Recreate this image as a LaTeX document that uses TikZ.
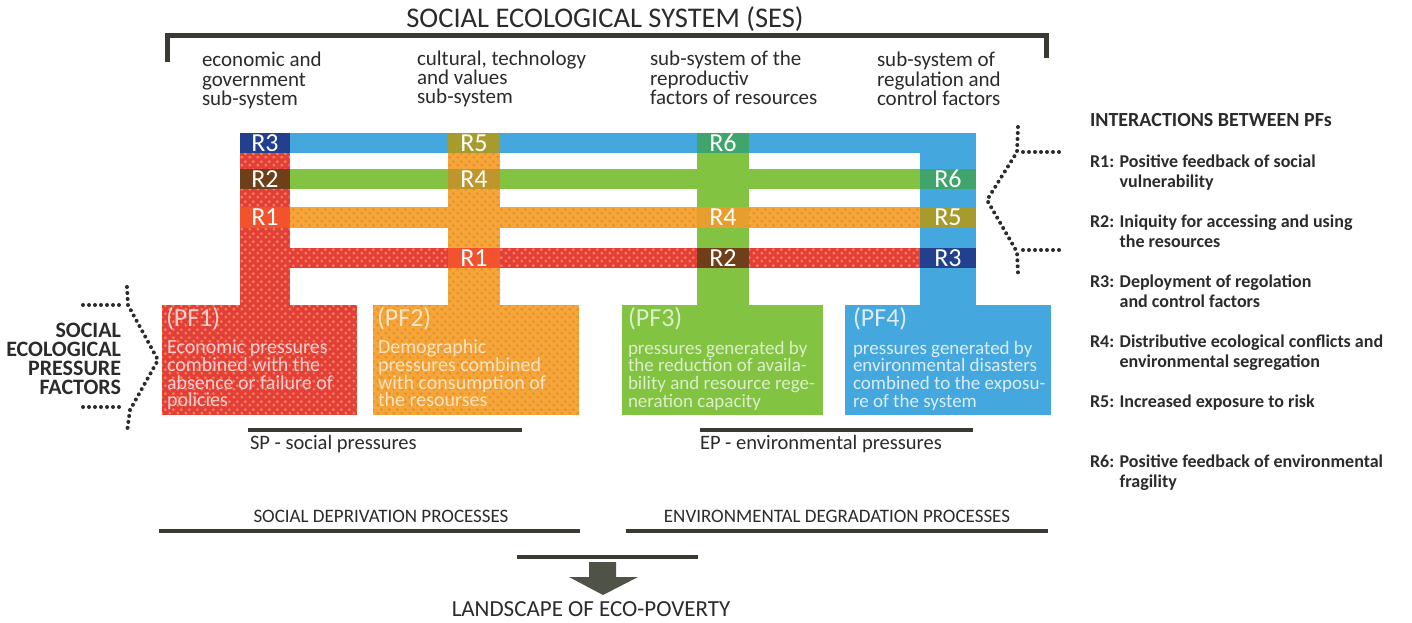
\documentclass[tikz,border=0pt]{standalone}
\usepackage{fontspec}
\setmainfont{Carlito}
\usetikzlibrary{patterns.meta}
\definecolor{ink}{HTML}{2B2B2B}
\definecolor{redF}{HTML}{E23E3C}
\definecolor{redDot}{HTML}{F2883A}
\definecolor{orangeF}{HTML}{F4A638}
\definecolor{orangeDot}{HTML}{EE8A30}
\definecolor{greenF}{HTML}{82C342}
\definecolor{blueF}{HTML}{44A7DE}
\definecolor{navyC}{HTML}{22408E}
\definecolor{oliveC}{HTML}{A89B2E}
\definecolor{tealC}{HTML}{3FA56C}
\definecolor{brownC}{HTML}{6E3F18}
\definecolor{goldC}{HTML}{BF962C}
\definecolor{amberC}{HTML}{E89E2E}
\definecolor{scarletC}{HTML}{F2522E}
\definecolor{arrowC}{HTML}{4F5246}
\definecolor{barC}{HTML}{3A3A34}
\newcommand\lineup[1]{\rule{0pt}{#1}}
% halftone texture of the social pressure areas
\pgfdeclarepattern{
  name=halftone,
  type=uncolored,
  bottom left={\pgfpoint{0pt}{0pt}},
  top right={\pgfpoint{8pt}{8pt}},
  tile size={\pgfpoint{8pt}{8pt}},
  code={
    \pgfpathcircle{\pgfpoint{2pt}{2pt}}{1.7pt}
    \pgfpathcircle{\pgfpoint{6pt}{6pt}}{1.7pt}
    \pgfusepath{fill}
  }
}
\begin{document}
\begin{tikzpicture}[x=1pt,y=-1pt,
  every node/.style={inner sep=0pt,outer sep=0pt},
  titletext/.style={anchor=base,text=ink,font=\fontsize{28.5}{30}\selectfont},
  header/.style={anchor=north west,align=left,text=ink,font=\fontsize{21}{19.5}\selectfont},
  cell/.style={text=white,font=\fontsize{26}{26}\selectfont},
  pfbox/.style={anchor=north west,minimum height=110pt,minimum width=#1},
  pftag/.style={anchor=base west,font=\fontsize{26}{26}\selectfont},
  pftext/.style={anchor=north west,align=left,font=\fontsize{20}{17.8}\selectfont},
  sidelabel/.style={anchor=north east,align=right,text=ink,font=\bfseries\fontsize{22}{19.3}\selectfont},
  legendhead/.style={anchor=base west,text=ink,font=\bfseries\fontsize{20}{20}\selectfont},
  legenditem/.style={anchor=north west,align=left,text=ink,font=\bfseries\fontsize{18}{20}\selectfont},
  bartext/.style={anchor=base west,text=ink,font=\fontsize{20.5}{20}\selectfont},
  proctext/.style={anchor=base,text=ink,font=\fontsize{19}{19}\selectfont},
  bar/.style={draw=barC,line width=4pt},
  dotline/.style={draw=ink,line width=4pt,line cap=round,dash pattern=on 0pt off 6pt},
]
\useasboundingbox (0,0) rectangle (1412,623);
\fill[white] (0,0) rectangle (1412,623);

% title and bracket
\node[titletext] (ses) at (605,28) {SOCIAL ECOLOGICAL SYSTEM (SES)};
\draw[barC,line width=5pt] (167,62) -- (167,36) -- (1046,36) -- (1046,58);

% sub-system headers
\node[header] (h1) at (202,51) {\lineup{16pt}economic and\\government\\sub-system};
\node[header] (h2) at (417,49) {\lineup{16pt}cultural, technology\\and values\\sub-system};
\node[header] (h3) at (650,50) {\lineup{16pt}sub-system of the\\reproductiv\\factors of resources};
\node[header] (h4) at (877,51) {\lineup{16pt}sub-system of\\regulation and\\control factors};

% vertical columns
\fill[redF] (240,133) rectangle (290,305);
\fill[orangeF] (448,133) rectangle (500,305);
\fill[greenF] (697,133) rectangle (749,305);
\fill[blueF] (920,133) rectangle (976,305);
% horizontal interaction bands
\fill[blueF] (290,133) rectangle (976,153);
\fill[greenF] (290,169) rectangle (920,189);
\fill[orangeF] (290,207) rectangle (920,228);
\fill[redF] (290,248) rectangle (920,268);

% pressure factor boxes
\node[pfbox=195pt,fill=redF] (pf1) at (162,305) {};
\node[pfbox=206pt,fill=orangeF] (pf2) at (373,305) {};
\node[pfbox=201pt,fill=greenF] (pf3) at (622,305) {};
\node[pfbox=206pt,fill=blueF] (pf4) at (845,305) {};

% halftone over the social pressure areas
\fill[pattern=halftone,pattern color=redDot]
  (240,133) rectangle (290,305) (290,248) rectangle (920,268)
  (pf1.north west) rectangle (pf1.south east);
\fill[pattern=halftone,pattern color=orangeDot]
  (448,133) rectangle (500,305) (290,207) rectangle (920,228)
  (pf2.north west) rectangle (pf2.south east);

% labelled crossings
\node[cell,fill=navyC,minimum width=50pt,minimum height=20pt] (c13) at (265,143) {R3};
\node[cell,fill=brownC,minimum width=50pt,minimum height=20pt] (c12) at (265,179) {R2};
\node[cell,fill=scarletC,minimum width=50pt,minimum height=21pt] (c11) at (265,217.5) {R1};
\node[cell,fill=oliveC,minimum width=52pt,minimum height=20pt] (c25) at (474,143) {R5};
\node[cell,fill=goldC,minimum width=52pt,minimum height=20pt] (c24) at (474,179) {R4};
\node[cell,fill=scarletC,minimum width=52pt,minimum height=20pt] (c21) at (474,258) {R1};
\node[cell,fill=tealC,minimum width=52pt,minimum height=20pt] (c36) at (723,143) {R6};
\node[cell,fill=amberC,minimum width=52pt,minimum height=21pt] (c34) at (723,217.5) {R4};
\node[cell,fill=brownC,minimum width=52pt,minimum height=20pt] (c32) at (723,258) {R2};
\node[cell,fill=tealC,minimum width=56pt,minimum height=20pt] (c46) at (948,179) {R6};
\node[cell,fill=oliveC,minimum width=56pt,minimum height=21pt] (c45) at (948,217.5) {R5};
\node[cell,fill=navyC,minimum width=56pt,minimum height=20pt] (c43) at (948,258) {R3};

% box texts
\node[pftag,text=white!75!redF] (t1) at (166,326) {(PF1)};
\node[pftext,text=white!75!redF] (d1) at (167,339) {\lineup{14.5pt}Economic pressures\\combined with the\\absence or failure of\\policies};
\node[pftag,text=white!70!orangeF] (t2) at (377,326) {(PF2)};
\node[pftext,text=white!70!orangeF] (d2) at (378,339) {\lineup{14.5pt}Demographic\\pressures combined\\with consumption of\\the resourses};
\node[pftag,text=white!72!greenF] (t3) at (628,326) {(PF3)};
\node[pftext,text=white!72!greenF,font=\fontsize{19}{17.8}\selectfont] (d3) at (628,340) {\lineup{14pt}pressures generated by\\the reduction of availa-\\bility and resource rege-\\neration capacity};
\node[pftag,text=white!80!blueF] (t4) at (853,326) {(PF4)};
\node[pftext,text=white!80!blueF,font=\fontsize{19}{17.8}\selectfont] (d4) at (853,340) {\lineup{14pt}pressures generated by\\environmental disasters\\combined to the exposu-\\re of the system};

% left side label with dotted chevron
\node[sidelabel] (spf) at (121,322) {\lineup{15pt}SOCIAL\\ECOLOGICAL\\PRESSURE\\FACTORS};
\draw[dotline] (127,287) -- (128,305) -- (158,360) -- (130,410) -- (127,432);
\draw[dotline] (83,305) -- (123,305);
\draw[dotline] (83,407) -- (123,407);

% right dotted chevron
\draw[dotline] (1018,127) -- (1017,152) -- (987,200) -- (1017,252) -- (1018,273);
\draw[dotline] (1023,152) -- (1062,152);
\draw[dotline] (1023,250) -- (1062,250);

% legend
\node[legendhead] (lh) at (1090,127) {INTERACTIONS BETWEEN PFs};
\node[legenditem] (l1) at (1090,153) {\lineup{14pt}R1: Positive feedback of social\\\phantom{R1: }vulnerability};
\node[legenditem] (l2) at (1090,213) {\lineup{14pt}R2: Iniquity for accessing and using\\\phantom{R2: }the resources};
\node[legenditem] (l3) at (1090,273) {\lineup{14pt}R3: Deployment of regolation\\\phantom{R3: }and control factors};
\node[legenditem] (l4) at (1090,333) {\lineup{14pt}R4: Distributive ecological conflicts and\\\phantom{R4: }environmental segregation};
\node[legenditem] (l5) at (1090,393) {\lineup{14pt}R5: Increased exposure to risk};
\node[legenditem] (l6) at (1090,453) {\lineup{14pt}R6: Positive feedback of environmental\\\phantom{R6: }fragility};

% pressure groups
\draw[bar] (248,430) -- (522,430);
\node[bartext] (sp) at (250,449) {SP - social pressures};
\draw[bar] (700,430) -- (973,430);
\node[bartext] (ep) at (700,449) {EP - environmental pressures};

% processes and outcome
\node[proctext] (sdp) at (381,522) {SOCIAL DEPRIVATION PROCESSES};
\node[proctext] (edp) at (837,522) {ENVIRONMENTAL DEGRADATION PROCESSES};
\draw[bar] (159,531) -- (580,531);
\draw[bar] (626,531) -- (1048,531);
\draw[bar] (517,557) -- (698,557);
\fill[arrowC] (589,562) -- (616,562) -- (616,577) -- (638,577) -- (603,595) -- (569,577) -- (589,577) -- cycle;
\node[anchor=base,text=ink,font=\fontsize{23}{23}\selectfont] (eco) at (591,616) {LANDSCAPE OF ECO-POVERTY};
\end{tikzpicture}
\end{document}
